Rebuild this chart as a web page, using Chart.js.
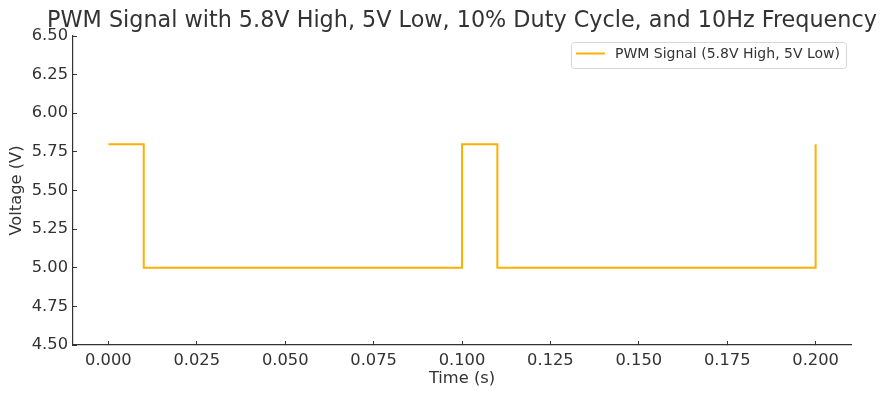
<!DOCTYPE html>
<html>
<head>
<meta charset="utf-8">
<script src="https://cdn.jsdelivr.net/npm/chart.js@4/dist/chart.umd.min.js"></script>
<style>
  html, body { margin: 0; padding: 0; background: #fff; }
  #wrap { width: 887px; height: 399px; }
</style>
</head>
<body>
<div id="wrap"><canvas id="pwmCanvas"></canvas></div>
<script>
// PWM signal corner points
var times = [0, 0.01, 0.01, 0.1, 0.1, 0.11, 0.11, 0.2, 0.2];
var volts = [5.8, 5.8, 5.0, 5.0, 5.8, 5.8, 5.0, 5.0, 5.8];
var seriesLabel = 'PWM Signal (5.8V High, 5V Low)';
var titleText = 'PWM Signal with 5.8V High, 5V Low, 10% Duty Cycle, and 10Hz Frequency';

var points = [];
for (var i = 0; i < times.length; i++) {
    points.push({ x: times[i], y: volts[i] });
}

var fontFamily = "'DejaVu Sans', sans-serif";
var textColor = '#333333';

// title centred over the plot area (the built-in one gets squeezed)
var axesTitle = {
    id: 'axesTitle',
    afterDraw: function (chart) {
        var ctx = chart.ctx;
        var area = chart.chartArea;
        ctx.save();
        ctx.font = '22.3px ' + fontFamily;
        ctx.fillStyle = textColor;
        ctx.textAlign = 'center';
        ctx.textBaseline = 'middle';
        ctx.fillText(titleText, (area.left + area.right) / 2, 21.5);
        ctx.restore();
    }
};

// legend drawn inside the plot area, upper right
var insideLegend = {
    id: 'insideLegend',
    afterDatasetsDraw: function (chart) {
        var ctx = chart.ctx;
        var area = chart.chartArea;
        var ds = chart.data.datasets[0];
        ctx.save();
        ctx.font = '14px ' + fontFamily;
        var tw = ctx.measureText(ds.label).width;
        var w = 5 + 29 + 10 + tw + 6;
        var h = 26;
        var x = area.right - 5 - w;
        var y = area.top + 6;
        ctx.beginPath();
        ctx.roundRect(x + 0.5, y + 0.5, w, h, 3);
        ctx.fillStyle = 'rgba(255,255,255,0.8)';
        ctx.fill();
        ctx.strokeStyle = '#d6d6d6';
        ctx.lineWidth = 1;
        ctx.stroke();
        ctx.beginPath();
        ctx.moveTo(x + 5, y + 11.5);
        ctx.lineTo(x + 34, y + 11.5);
        ctx.strokeStyle = ds.borderColor;
        ctx.lineWidth = 2;
        ctx.stroke();
        ctx.fillStyle = textColor;
        ctx.textBaseline = 'middle';
        ctx.fillText(ds.label, x + 44, y + 12.5);
        ctx.restore();
    }
};

var ctx = document.getElementById('pwmCanvas').getContext('2d');
new Chart(ctx, {
    type: 'line',
    data: {
        datasets: [{
            label: seriesLabel,
            data: points,
            borderColor: '#ffb000',
            backgroundColor: '#ffb000',
            borderWidth: 2,
            pointRadius: 0,
            tension: 0,
            fill: false
        }]
    },
    options: {
        responsive: true,
        maintainAspectRatio: false,
        animation: false,
        layout: { padding: { left: 0, right: 36, top: 36, bottom: 0 } },
        plugins: {
            legend: { display: false },
            tooltip: { enabled: false },
            title: { display: false }
        },
        scales: {
            x: {
                type: 'linear',
                min: -0.01,
                max: 0.21,
                afterFit: function (scale) { scale.height = 54; },
                ticks: {
                    stepSize: 0.025,
                    includeBounds: false,
                    autoSkip: false,
                    maxRotation: 0,
                    padding: 10,
                    color: textColor,
                    font: { family: fontFamily, size: 16.3 },
                    callback: function (v) { return Number(v).toFixed(3); }
                },
                grid: {
                    drawOnChartArea: false,
                    drawTicks: true,
                    tickLength: -4,
                    tickColor: '#333333'
                },
                border: { display: true, color: '#333333', width: 1.2 },
                title: {
                    display: true,
                    text: 'Time (s)',
                    color: textColor,
                    font: { family: fontFamily, size: 16.3 },
                    padding: 10
                }
            },
            y: {
                min: 4.5,
                max: 6.5,
                afterFit: function (scale) { scale.width = 73; },
                ticks: {
                    stepSize: 0.25,
                    padding: 9,
                    color: textColor,
                    font: { family: fontFamily, size: 16.3 },
                    callback: function (v) { return Number(v).toFixed(2); }
                },
                grid: {
                    drawOnChartArea: false,
                    drawTicks: true,
                    tickLength: -4,
                    tickColor: '#333333'
                },
                border: { display: true, color: '#333333', width: 1.2 },
                title: {
                    display: true,
                    text: 'Voltage (V)',
                    color: textColor,
                    font: { family: fontFamily, size: 16.3 },
                    padding: 7
                }
            }
        }
    },
    plugins: [insideLegend, axesTitle]
});
</script>
</body>
</html>
